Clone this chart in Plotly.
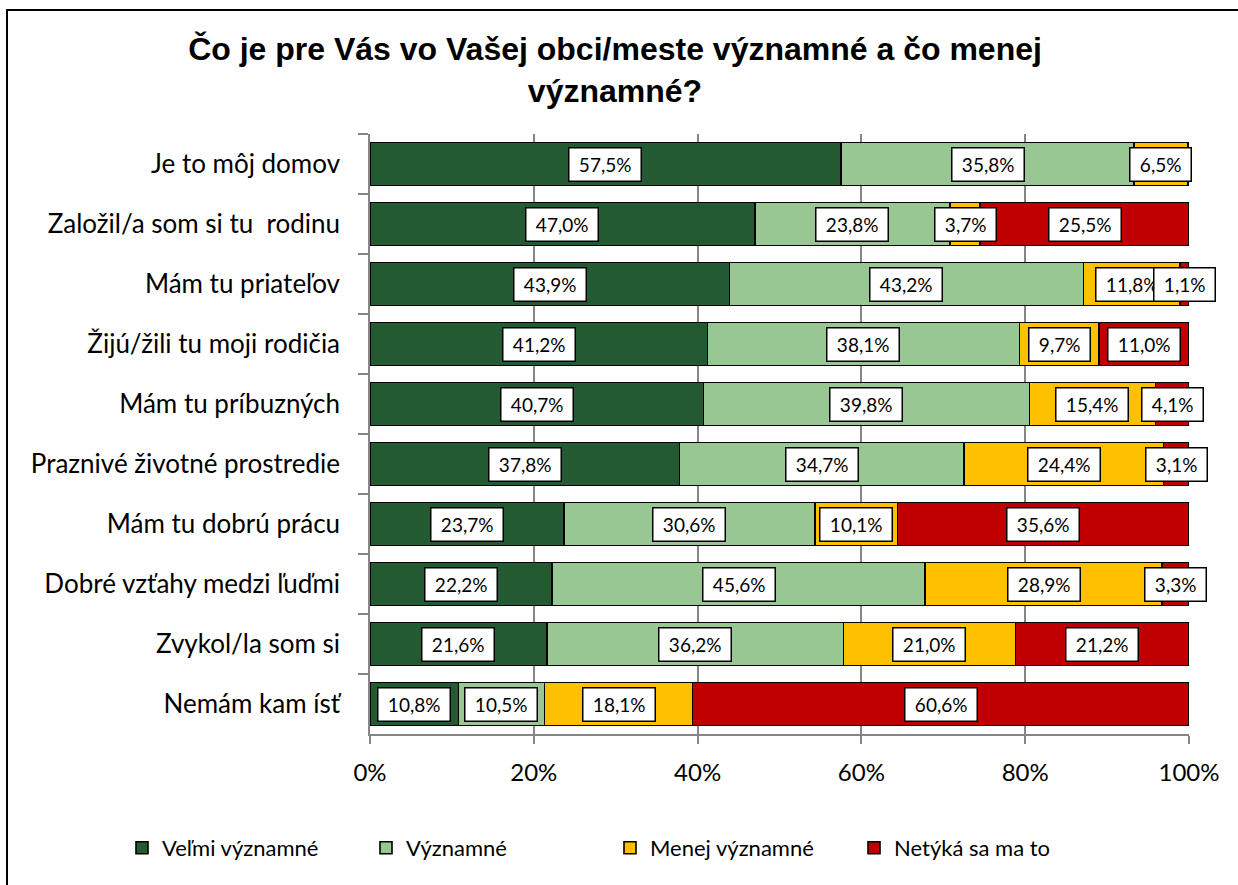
import plotly.graph_objects as go

categories = [
    "Je to môj domov",
    "Založil/a som si tu\u00a0 rodinu",
    "Mám tu priateľov",
    "Žijú/žili tu moji rodičia",
    "Mám tu príbuzných",
    "Praznivé životné prostredie",
    "Mám tu dobrú prácu",
    "Dobré vzťahy medzi ľuďmi",
    "Zvykol/la som si",
    "Nemám kam ísť",
]
series_names = ["Veľmi významné", "Významné", "Menej významné", "Netýká sa ma to"]
velmi = [57.5, 47.0, 43.9, 41.2, 40.7, 37.8, 23.7, 22.2, 21.6, 10.8]
vyznamne = [35.8, 23.8, 43.2, 38.1, 39.8, 34.7, 30.6, 45.6, 36.2, 10.5]
menej = [6.5, 3.7, 11.8, 9.7, 15.4, 24.4, 10.1, 28.9, 21.0, 18.1]
netyka = [0.2, 25.5, 1.1, 11.0, 4.1, 3.1, 35.6, 3.3, 21.2, 60.6]
x_ticks = [0, 20, 40, 60, 80, 100]
x_tick_labels = ["0%", "20%", "40%", "60%", "80%", "100%"]

colors = ["#235A32", "#98C794", "#FFC000", "#C00000"]
series = [velmi, vyznamne, menej, netyka]

FONT = "Lato"

fig = go.Figure()
for name, vals, col in zip(series_names, series, colors):
    fig.add_trace(go.Bar(
        y=categories, x=vals, name=name, orientation="h",
        marker=dict(color=col, line=dict(color="#000000", width=1.6)),
        hoverinfo="x+y+name",
    ))

annotations = []
cum = [0.0] * len(categories)
for vals in series:
    for i, v in enumerate(vals):
        if v >= 0.5:
            annotations.append(dict(
                x=cum[i] + v / 2, y=categories[i], xref="x", yref="y",
                text="\u00a0" + f"{v:.1f}".replace(".", ",") + "%\u00a0",
                showarrow=False, bgcolor="#FFFFFF", bordercolor="#000000",
                borderwidth=1.5, borderpad=4.5,
                font=dict(family=FONT, size=19, color="#000000"),
            ))
        cum[i] += v

fig.update_layout(
    width=1238, height=885,
    margin=dict(l=370, r=49, t=134, b=151),
    paper_bgcolor="#FFFFFF", plot_bgcolor="#FFFFFF",
    barmode="stack", bargap=0.28,
    title=dict(
        text="Čo je pre Vás vo Vašej obci/meste významné a čo menej<br>významné?",
        x=615 / 1238, xanchor="center", y=1 - 60 / 885, yanchor="middle",
        font=dict(family="Liberation Sans", size=32, color="#000000", weight="bold"),
    ),
    xaxis=dict(
        range=[0, 100], tickvals=x_ticks, ticktext=x_tick_labels,
        showgrid=True, gridcolor="#868686", gridwidth=1.5,
        showline=True, linecolor="#868686", linewidth=1.5,
        ticks="outside", ticklen=8, tickcolor="#868686", tickwidth=1.5,
        tickfont=dict(family=FONT, size=24, color="#000000"),
        ticklabelstandoff=8, zeroline=False, fixedrange=True,
    ),
    yaxis=dict(
        autorange="reversed", type="category",
        showline=True, linecolor="#868686", linewidth=1.5,
        ticks="outside", ticklen=10, tickcolor="#868686", tickwidth=1.5,
        tickson="boundaries", showgrid=False,
        tickfont=dict(family=FONT, size=26, color="#000000"),
        ticklabelstandoff=23, fixedrange=True,
    ),
    legend=dict(
        orientation="h", x=(122 - 370) / 819, xanchor="left",
        y=-0.19, yanchor="middle", traceorder="normal",
        entrywidth=199, entrywidthmode="pixels",
        font=dict(family=FONT, size=22, color="#000000"),
    ),
    annotations=annotations,
    shapes=[dict(
        type="rect", xref="paper", yref="paper",
        x0=(7 - 370) / 819, x1=1.2, y0=-0.4, y1=(734 - 10) / 600,
        line=dict(color="#000000", width=2), fillcolor="rgba(0,0,0,0)",
        layer="above",
    )],
)

fig.write_html(
    "out.html",
    config={"displayModeBar": False},
    post_script="document.body.style.margin='0px';",
)
